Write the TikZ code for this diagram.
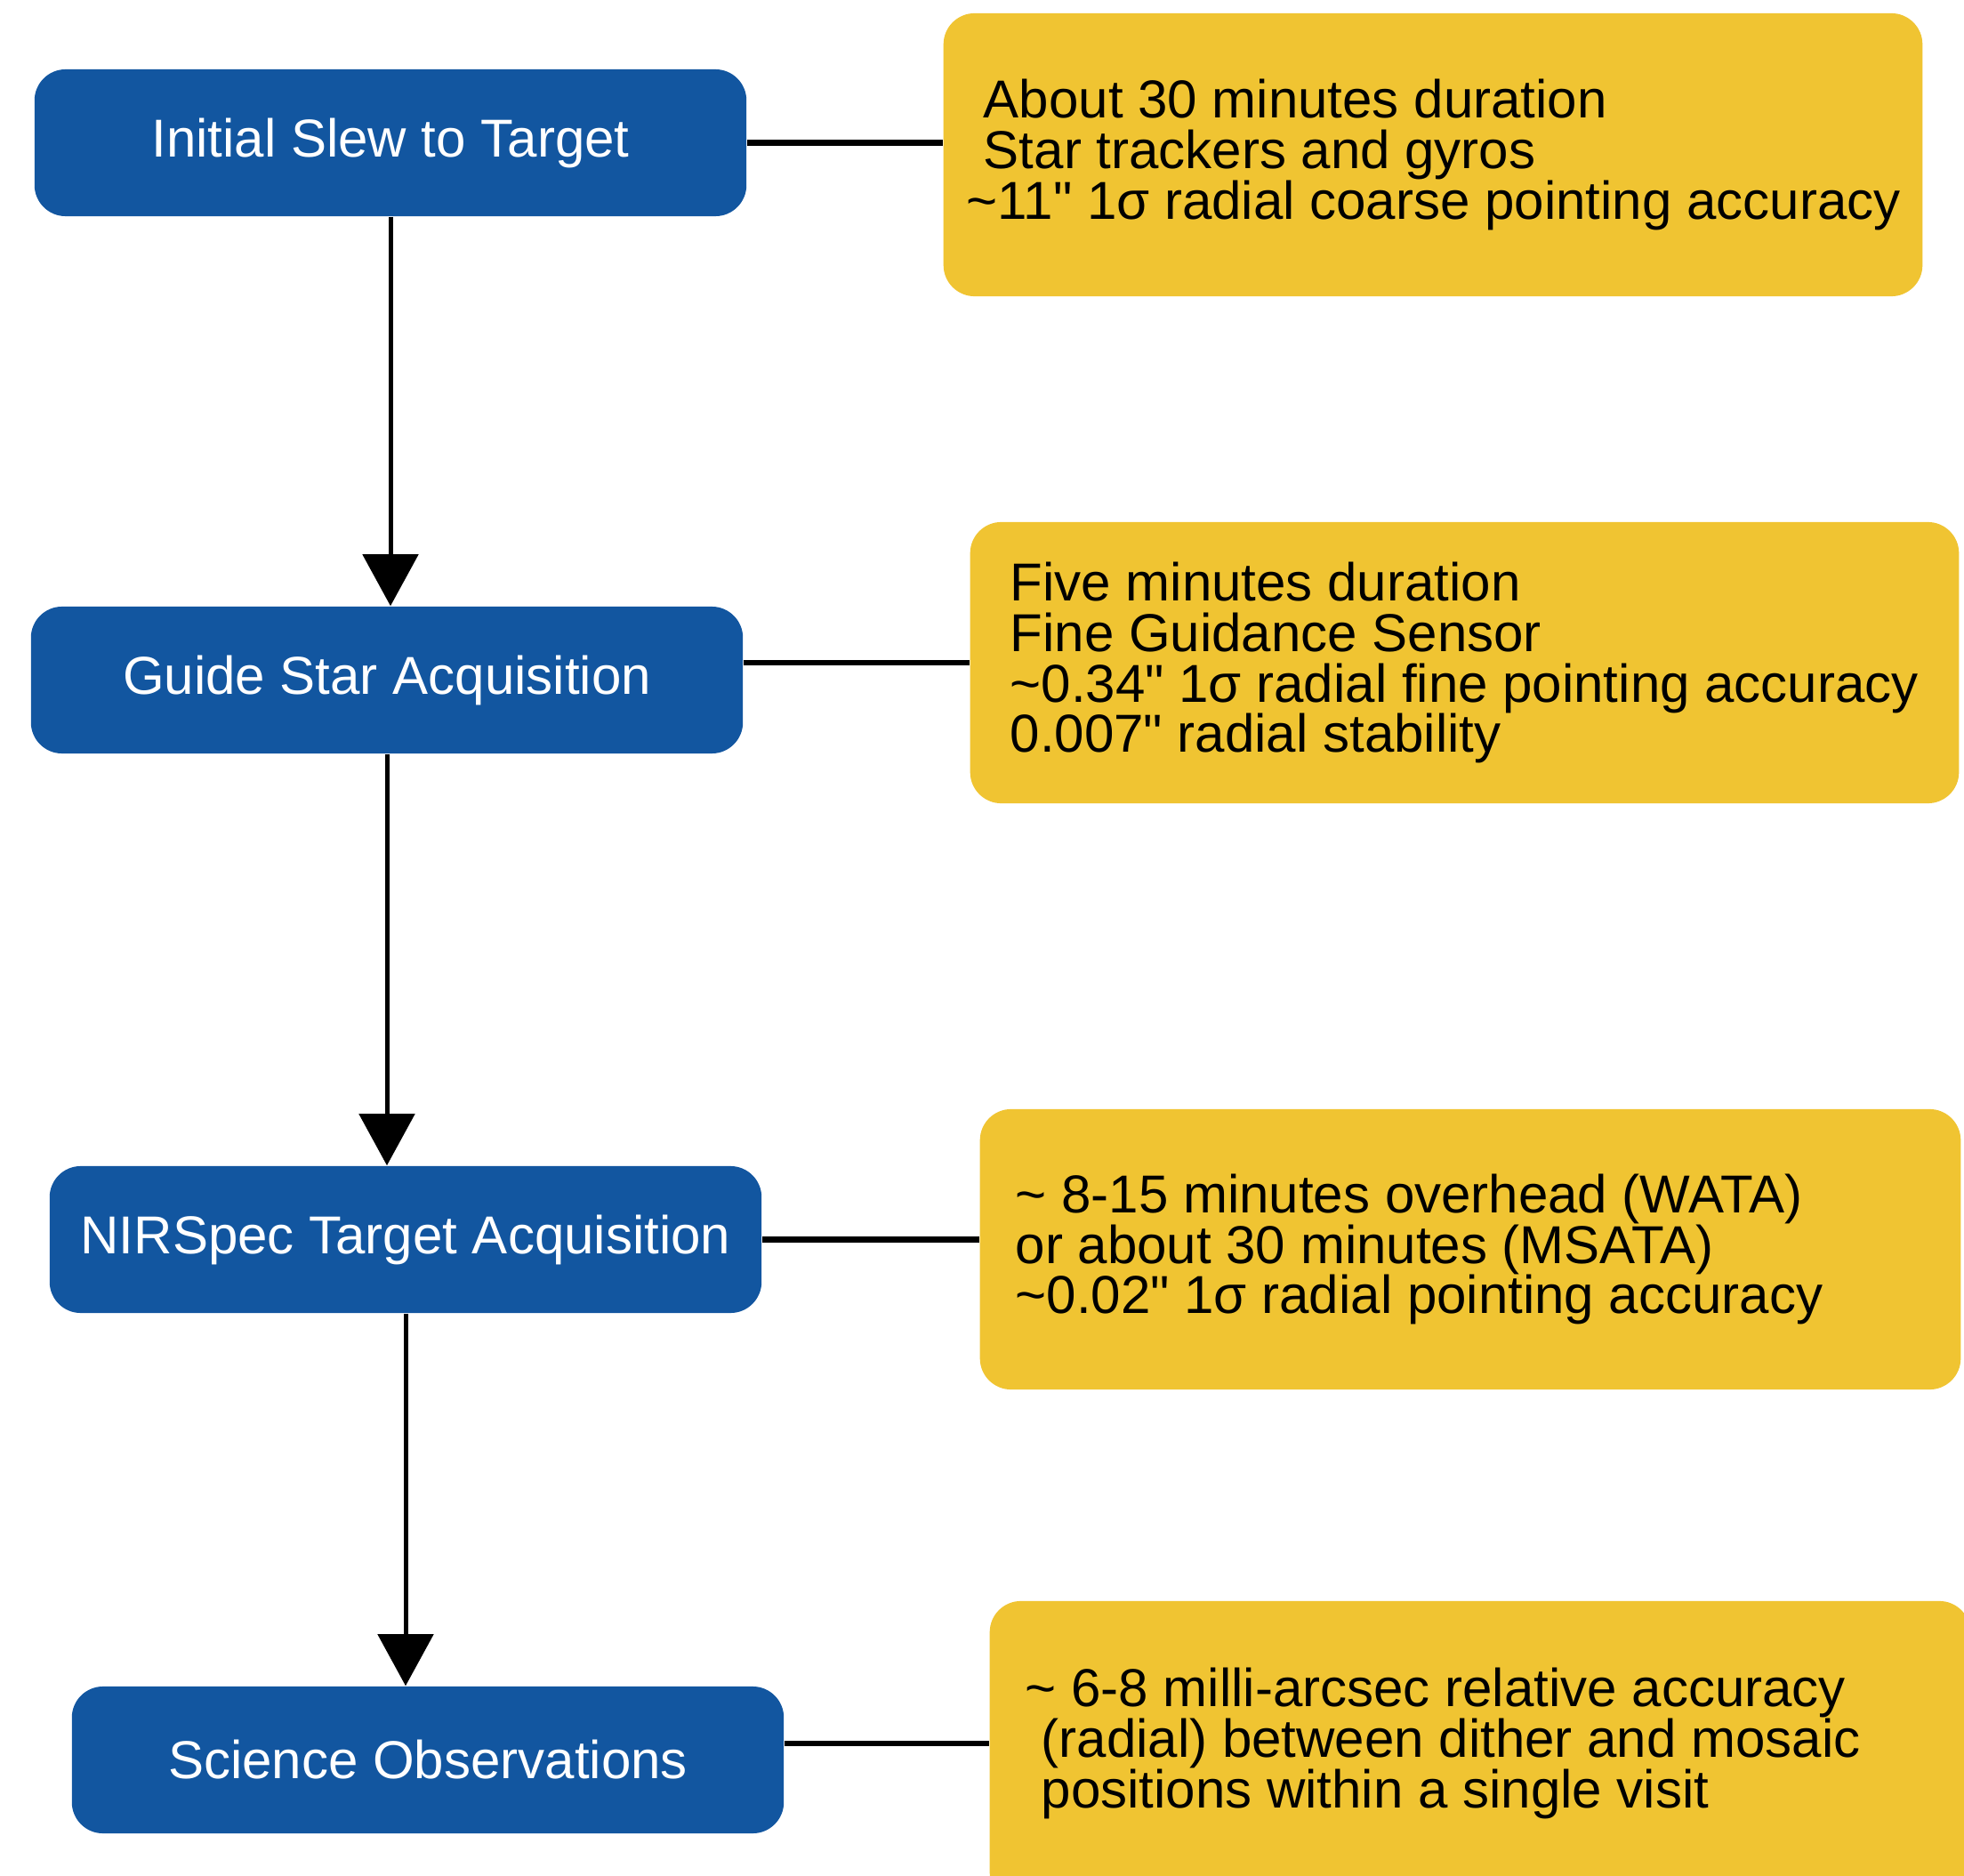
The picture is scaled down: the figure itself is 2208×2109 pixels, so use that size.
\documentclass[tikz,border=0pt]{standalone}
\usepackage{fontspec}
\setmainfont{Liberation Sans}
\usetikzlibrary{arrows.meta,calc}
\definecolor{jblue}{RGB}{18,86,160}
\definecolor{jyellow}{RGB}{240,196,50}
\newcommand{\inch}{\textquotedbl}
\begin{document}
\begin{tikzpicture}[x=0.01cm,y=-0.01cm,
  bluebox/.style={fill=jblue, rounded corners=0.35cm, minimum width=8cm, minimum height=1.65cm,
    text=white, inner sep=0pt, font=\fontsize{17.07pt}{16.2pt}\selectfont},
  yellowbox/.style={fill=jyellow, rounded corners=0.35cm, inner sep=0pt},
  infotext/.style={anchor=west, align=left, inner sep=0pt, text=black,
    font=\fontsize{17.07pt}{16.2pt}\selectfont},
  flow/.style={line width=0.05cm, -{Triangle[width=0.62cm,length=0.58cm]}},
  link/.style={line width=0.065cm}]
\useasboundingbox (0,0) rectangle (2208,2109);
\fill[white] (0,0) rectangle (2208,2109);
\clip (0,0) rectangle (2208,2109);

% process boxes
\node[bluebox] (b1) at (439,160.5) {Initial Slew to Target};
\node[bluebox] (b2) at (435,764.5) {Guide Star Acquisition};
\node[bluebox] (b3) at (456,1393.5) {NIRSpec Target Acquisition};
\node[bluebox] (b4) at (481,1978.5) {Science Observations};

% info boxes
\node[yellowbox, minimum width=11cm, minimum height=3.18cm] (y1) at (1611,174) {};
\node[yellowbox, minimum width=11.11cm, minimum height=3.16cm] (y2) at (1646.5,745) {};
\node[yellowbox, minimum width=11.02cm, minimum height=3.15cm] (y3) at (1653,1404.5) {};
\node[yellowbox, minimum width=11.02cm, minimum height=3.4cm] (y4) at (1664,1970) {};

\node[infotext] (t1) at ([xshift=0.26cm]y1.west)
  {\hspace*{0.32em}About 30 minutes duration\\
   \hspace*{0.32em}Star trackers and gyros\\
   \textasciitilde 11\inch{} 1σ radial coarse pointing accuracy};
\node[infotext] (t2) at ([xshift=0.45cm]y2.west)
  {Five minutes duration\\
   Fine Guidance Sensor\\
   \textasciitilde 0.34\inch{} 1σ radial fine pointing accuracy\\
   0.007\inch{} radial stability};
\node[infotext] (t3) at ([xshift=0.40cm]y3.west)
  {\textasciitilde\ 8-15 minutes overhead (WATA)\\
   or about 30 minutes (MSATA)\\
   \textasciitilde 0.02\inch{} 1σ radial pointing accuracy};
\node[infotext] (t4) at ([xshift=0.40cm,yshift=0.1cm]y4.west)
  {\textasciitilde\ 6-8 milli-arcsec relative accuracy\\
   \hspace*{0.3em}(radial) between dither and mosaic\\
   \hspace*{0.3em}positions within a single visit};

% flow arrows
\draw[flow] (b1.south) -- (b1.south |- b2.north);
\draw[flow] (b2.south) -- (b2.south |- b3.north);
\draw[flow] (b3.south) -- (b3.south |- b4.north);

% links to info boxes
\draw[link] (b1.east) -- (b1.east -| y1.west);
\draw[link] (b2.east |- y2.west) -- (y2.west);
\draw[link] (b3.east) -- (b3.east -| y3.west);
\draw[link] (b4.east |- t4.west) -- (t4.west -| y4.west);
\end{tikzpicture}
\end{document}
